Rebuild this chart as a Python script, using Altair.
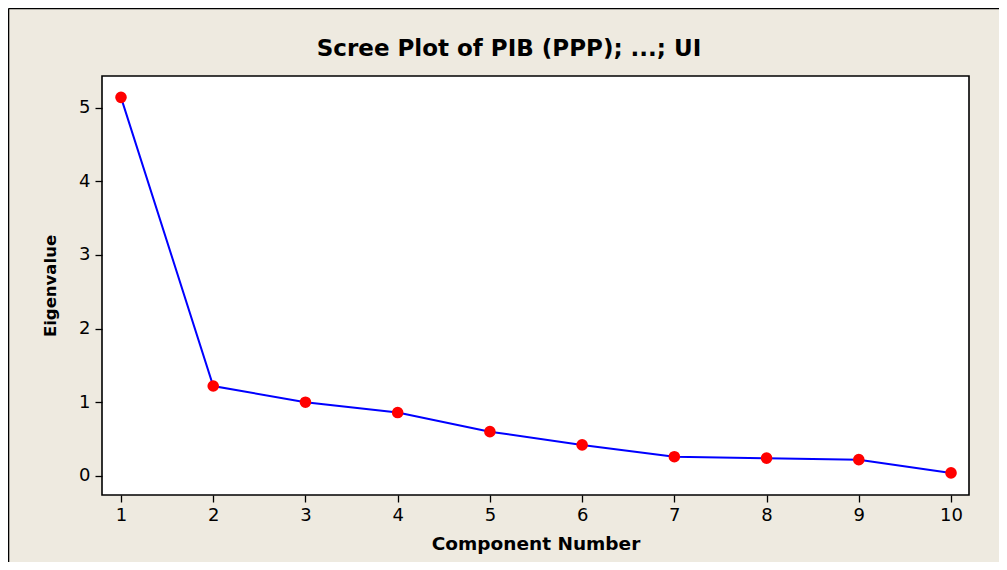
import altair as alt
import pandas as pd

components = [1, 2, 3, 4, 5, 6, 7, 8, 9, 10]
eigenvalues = [5.14, 1.22, 1.00, 0.86, 0.60, 0.42, 0.26, 0.24, 0.22, 0.04]
x_ticks = [1, 2, 3, 4, 5, 6, 7, 8, 9, 10]
y_ticks = [0, 1, 2, 3, 4, 5]
title_text = "Scree Plot of PIB (PPP); ...; UI"

df = pd.DataFrame({"Component": components, "Eigenvalue": eigenvalues})

BG = "#EEEAE0"
FONT = "DejaVu Sans"

x_enc = alt.X(
    "Component:Q",
    scale=alt.Scale(domain=[0.794, 10.195], nice=False, zero=False),
    axis=alt.Axis(
        values=x_ticks, format="d", title="Component Number", grid=False, domain=False,
        tickSize=7, tickColor="black", tickWidth=1.3, labelPadding=4,
        labelFont=FONT, labelFontSize=18, labelColor="black",
        titleFont=FONT, titleFontSize=18.5, titleFontWeight="bold",
        titleColor="black", titlePadding=10, labelFlush=False,
    ),
)
y_enc = alt.Y(
    "Eigenvalue:Q",
    scale=alt.Scale(domain=[-0.26, 5.43], nice=False, zero=False),
    axis=alt.Axis(
        values=y_ticks, format="d", title="Eigenvalue", grid=False, domain=False,
        tickSize=7, tickColor="black", tickWidth=1.3, labelPadding=5,
        labelFont=FONT, labelFontSize=18, labelColor="black",
        titleFont=FONT, titleFontSize=16.5, titleFontWeight="bold",
        titleColor="black", titlePadding=20, labelFlush=False,
    ),
)

line = alt.Chart(df).mark_line(color="#0000FF", strokeWidth=2).encode(x=x_enc, y=y_enc)
pts = alt.Chart(df).mark_point(filled=True, color="#FF0000", size=135, opacity=1).encode(
    x="Component:Q", y="Eigenvalue:Q"
)

single = alt.Data(values=[{"k": 1}])
frame_left = alt.Chart(single).mark_rule(color="black", strokeWidth=1.6).encode(
    x=alt.value(-93.5), y=alt.value(-67.5), y2=alt.value(490)
)
frame_top = alt.Chart(single).mark_rule(color="black", strokeWidth=1.6).encode(
    x=alt.value(-93.5), x2=alt.value(900), y=alt.value(-67.5)
)
title = alt.Chart(single).mark_text(
    text=title_text, font=FONT, fontSize=23, fontWeight="bold", color="black",
    align="center", baseline="middle",
).encode(x=alt.value(407), y=alt.value(-27))

chart = (
    alt.layer(line, pts, frame_left, frame_top, title)
    .properties(
        width=867,
        height=419,
        background=BG,
        padding={"left": 94, "top": 68, "right": 30, "bottom": 67},
        autosize=alt.AutoSizeParams(type="none"),
    )
    .configure_view(stroke="black", strokeWidth=1.6, fill="white")
)

chart.save("out.html", embed_options={"renderer": "svg", "actions": False})
